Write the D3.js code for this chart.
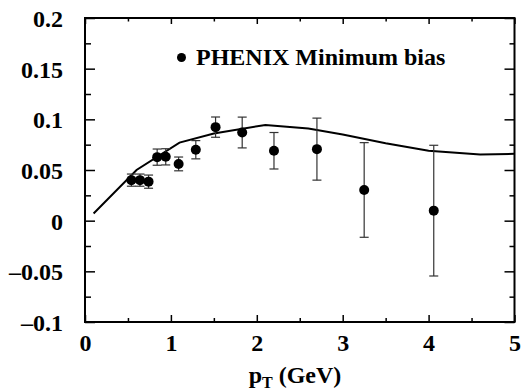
<!DOCTYPE html>
<html>
<head>
<meta charset="utf-8">
<script src="https://cdn.jsdelivr.net/npm/d3@7"></script>
<style>
 body { margin: 0; background: #fff; }
</style>
</head>
<body>
<script>
 /*  Display Settings */
 var margin = {top: 18, right: 7.5, bottom: 70, left: 85};
 var width = 522 - margin.left - margin.right;
 var height = 392 - margin.top - margin.bottom;
 var serif = "'Liberation Serif', 'Times New Roman', 'DejaVu Serif', serif";

 // PHENIX points
 var ptData  = [0.54, 0.64, 0.74, 0.84, 0.94, 1.09, 1.29, 1.52, 1.83, 2.20, 2.70, 3.25, 4.06];
 var v2Data  = [0.040, 0.040, 0.0385, 0.0627, 0.063, 0.056, 0.070, 0.0923, 0.087, 0.069, 0.0706, 0.0303, 0.0099];
 var errData = [0.006, 0.006, 0.0065, 0.008, 0.008, 0.0068, 0.009, 0.010, 0.0152, 0.018, 0.0306, 0.0467, 0.0645];

 // model curve
 var curveX = [0.1, 0.6, 1.1, 1.5, 2.1, 2.6, 3.0, 3.5, 4.0, 4.6, 5.0];
 var curveY = [0.007, 0.050, 0.077, 0.086, 0.0945, 0.091, 0.085, 0.0765, 0.069, 0.0653, 0.066];

 var xTicks = [0, 1, 2, 3, 4, 5];
 var yTicks = [-0.1, -0.05, 0, 0.05, 0.1, 0.15, 0.2];
 var xMinor = [0.5, 1.5, 2.5, 3.5, 4.5];
 var yMinor = [-0.075, -0.025, 0.025, 0.075, 0.125, 0.175];

 var svg = d3.select("body").append("svg")
	 .attr("width", 522)
	 .attr("height", 392);
 var g = svg.append("g")
	 .attr("transform", "translate(" + margin.left + "," + margin.top + ")");

 var x = d3.scaleLinear().domain([0, 5]).range([0, width]);
 var y = d3.scaleLinear().domain([-0.1, 0.2]).range([height, 0]);

 function fmt(d){
	 if (d == 0) return "0";
	 return (d < 0 ? "\u2013" : "") + String(Math.abs(d));
 }

 function labels(a){
	 a.select(".domain").remove();
	 a.attr("font-family", serif);
	 a.selectAll("text").attr("font-size", 24).attr("font-weight", "bold")
		 .attr("font-family", serif).attr("fill", "#000");
 }

 // axes (ticks inside)
 g.append("g").attr("transform", "translate(0," + height + ")")
	 .call(d3.axisBottom(x).tickValues(xTicks).tickSize(-7).tickPadding(12).tickFormat(d3.format("d")))
	 .call(labels);
 g.append("g").attr("transform", "translate(0," + height + ")")
	 .call(d3.axisBottom(x).tickValues(xMinor).tickSize(-4).tickFormat(""))
	 .call(labels);
 g.append("g")
	 .call(d3.axisTop(x).tickValues(xTicks).tickSize(-6).tickFormat(""))
	 .call(labels);
 g.append("g")
	 .call(d3.axisTop(x).tickValues(xMinor).tickSize(-3.5).tickFormat(""))
	 .call(labels);

 g.append("g")
	 .call(d3.axisLeft(y).tickValues(yTicks).tickSize(-10).tickPadding(22).tickFormat(fmt))
	 .call(labels)
	 .call(function(a){ a.selectAll("text").attr("dy", "0.36em"); });
 g.append("g")
	 .call(d3.axisLeft(y).tickValues(yMinor).tickSize(-6).tickFormat(""))
	 .call(labels);
 g.append("g").attr("transform", "translate(" + width + ",0)")
	 .call(d3.axisRight(y).tickValues(yTicks).tickSize(-10).tickFormat(""))
	 .call(labels);
 g.append("g").attr("transform", "translate(" + width + ",0)")
	 .call(d3.axisRight(y).tickValues(yMinor).tickSize(-5).tickFormat(""))
	 .call(labels);

 g.selectAll(".tick line").attr("stroke", "#000").attr("stroke-width", 1.5);

 // frame
 g.append("rect")
	 .attr("width", width).attr("height", height)
	 .attr("fill", "none").attr("stroke", "#000").attr("stroke-width", 2);

 // curve
 var line = d3.line().x(function(d, i){ return x(curveX[i]); }).y(function(d){ return y(d); });
 g.append("path")
	 .datum(curveY)
	 .attr("d", line)
	 .attr("fill", "none").attr("stroke", "#000").attr("stroke-width", 2);

 // error bars
 var bars = g.selectAll(".err").data(v2Data).enter().append("g").attr("class", "err");
 bars.append("line")
	 .attr("x1", function(d, i){ return x(ptData[i]); })
	 .attr("x2", function(d, i){ return x(ptData[i]); })
	 .attr("y1", function(d, i){ return y(d + errData[i]); })
	 .attr("y2", function(d, i){ return y(d - errData[i]); })
	 .attr("stroke", "#333").attr("stroke-width", 1.2);
 [1, -1].forEach(function(s){
	 bars.append("line")
		 .attr("x1", function(d, i){ return x(ptData[i]) - 4.5; })
		 .attr("x2", function(d, i){ return x(ptData[i]) + 4.5; })
		 .attr("y1", function(d, i){ return y(d + s * errData[i]); })
		 .attr("y2", function(d, i){ return y(d + s * errData[i]); })
		 .attr("stroke", "#333").attr("stroke-width", 1.2);
 });

 // points
 g.selectAll(".pt").data(v2Data).enter().append("circle")
	 .attr("class", "pt")
	 .attr("cx", function(d, i){ return x(ptData[i]); })
	 .attr("cy", function(d){ return y(d); })
	 .attr("r", 5)
	 .attr("fill", "#000");

 // legend
 svg.append("circle").attr("cx", 181.5).attr("cy", 57.5).attr("r", 4.5).attr("fill", "#000");
 svg.append("text").attr("x", 196).attr("y", 64.5)
	 .attr("font-family", serif).attr("font-weight", "bold").attr("font-size", 24)
	 .text("PHENIX Minimum bias");

 // x label
 var xl = svg.append("text").attr("x", 295).attr("y", 383).attr("text-anchor", "middle")
	 .attr("font-family", serif).attr("font-weight", "bold").attr("font-size", 24);
 xl.append("tspan").text("p");
 xl.append("tspan").attr("font-size", 16).attr("dy", 5).text("T");
 xl.append("tspan").attr("dy", -5).text(" (GeV)");
</script>
</body>
</html>
